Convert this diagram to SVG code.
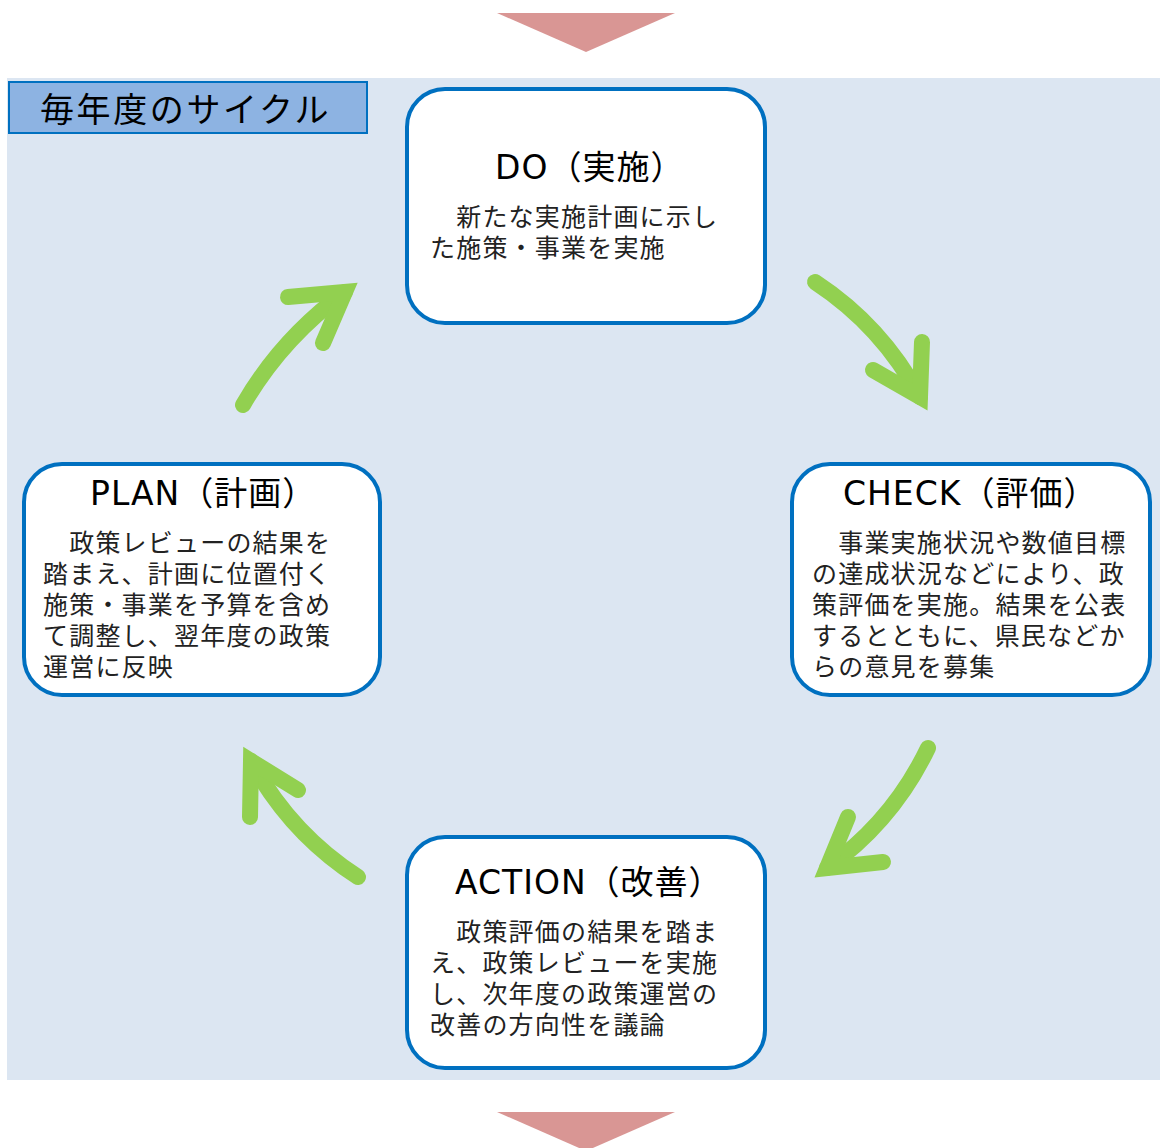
<svg xmlns="http://www.w3.org/2000/svg" width="1160" height="1148" viewBox="0 0 1160 1148">
<style>
.box{fill:#ffffff;stroke:#0070c0;stroke-width:4}
.ttl{font-family:"DejaVu Sans","Noto Sans CJK JP",sans-serif;font-size:33px;letter-spacing:1px;fill:#000}
.body{font-family:"Noto Sans CJK JP",sans-serif;font-size:25px;letter-spacing:1.2px;fill:#222}
.shaft{fill:none;stroke:#92d050;stroke-width:16;stroke-linecap:round}
.head{fill:none;stroke:#92d050;stroke-width:16;stroke-linecap:round;stroke-linejoin:miter;stroke-miterlimit:6}
.tri{fill:#d99694}
</style>
<rect x="0" y="0" width="1160" height="1148" fill="#ffffff"/>
<polygon class="tri" points="497,13 675,13 586,52"/>
<rect x="7" y="78" width="1153" height="1002" fill="#dce6f2"/>
<polygon class="tri" points="497,1112 675,1112 586,1151"/>
<g id="title">
<rect x="9" y="82" width="358" height="51" fill="#8db3e2" stroke="#0070c0" stroke-width="2"/>
<text x="40" y="122" font-family="'Noto Sans CJK JP',sans-serif" font-size="34" letter-spacing="2.6" fill="#000">毎年度のサイクル</text>
</g>
<g id="connectors">
<g id="arrow-plan-do">
<path class="shaft" d="M243,405 Q281,339 345,292"/>
<path class="head" d="M288,297 L345,292 L323,343"/>
</g>
<g id="arrow-do-check">
<path class="shaft" d="M815,282 Q882,326 920,397"/>
<path class="head" d="M922,342 L920,397 L873,370"/>
</g>
<g id="arrow-check-action">
<path class="shaft" d="M928,748 Q893,821 827,868"/>
<path class="head" d="M848,817 L827,868 L883,862"/>
</g>
<g id="arrow-action-plan">
<path class="shaft" d="M358,877 Q290,833 251,761"/>
<path class="head" d="M250,817 L251,761 L298,790"/>
</g>
</g>
<g id="do">
<rect class="box" x="407" y="89" width="358" height="234" rx="38"/>
<text class="ttl" x="495" y="179">DO（実施）</text>
<text class="body" x="430" y="226">　新たな実施計画に示し</text>
<text class="body" x="430" y="257">た施策・事業を実施</text>
</g>
<g id="check">
<rect class="box" x="792" y="464" width="358" height="231" rx="38"/>
<text class="ttl" x="843" y="505">CHECK（評価）</text>
<text class="body" x="812" y="552">　事業実施状況や数値目標</text>
<text class="body" x="812" y="583">の達成状況などにより、政</text>
<text class="body" x="812" y="614">策評価を実施。結果を公表</text>
<text class="body" x="812" y="645">するとともに、県民などか</text>
<text class="body" x="812" y="676">らの意見を募集</text>
</g>
<g id="plan">
<rect class="box" x="24" y="464" width="356" height="231" rx="38"/>
<text class="ttl" x="90" y="505">PLAN（計画）</text>
<text class="body" x="43" y="552">　政策レビューの結果を</text>
<text class="body" x="43" y="583">踏まえ、計画に位置付く</text>
<text class="body" x="43" y="614">施策・事業を予算を含め</text>
<text class="body" x="43" y="645">て調整し、翌年度の政策</text>
<text class="body" x="43" y="676">運営に反映</text>
</g>
<g id="action">
<rect class="box" x="407" y="837" width="358" height="231" rx="38"/>
<text class="ttl" x="455" y="894">ACTION（改善）</text>
<text class="body" x="430" y="941">　政策評価の結果を踏ま</text>
<text class="body" x="430" y="972">え、政策レビューを実施</text>
<text class="body" x="430" y="1003">し、次年度の政策運営の</text>
<text class="body" x="430" y="1034">改善の方向性を議論</text>
</g>
</svg>
